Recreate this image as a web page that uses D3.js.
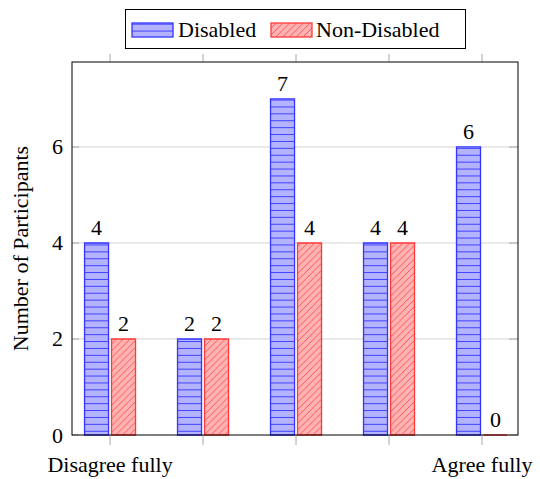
<!DOCTYPE html>
<html>
<head>
<meta charset="utf-8">
<script src="https://cdn.jsdelivr.net/npm/d3@7"></script>
</head>
<body style="margin:0;background:#fff">
<svg id="chart" width="540" height="479" style="display:block"></svg>
<script>
// Agreement scale (1 = disagree fully ... 5 = agree fully)
const categories = [1, 2, 3, 4, 5];
const tickLabels = ["Disagree fully", "", "", "", "Agree fully"];
const disabled = [4, 2, 7, 4, 6];
const nonDisabled = [2, 2, 4, 4, 0];
const yTicks = [0, 2, 4, 6];
const seriesNames = ["Disabled", "Non-Disabled"];

const FONT = '"Liberation Serif", serif';
const FS = 22;

const svg = d3.select("#chart");
const plot = { left: 72, right: 518, top: 62, bottom: 435 };

const x = d3.scaleLinear().domain([0.591, 5.387]).range([plot.left, plot.right]);
const y = d3.scaleLinear().domain([0, 7.77]).range([plot.bottom, plot.top]);

const barWidth = 24;
const barShift = 13.5;

const styles = [
  { fill: "#b3b3ff", stroke: "#3535ff", pattern: "hlines" },
  { fill: "#ffb3b3", stroke: "#ff3a3a", pattern: "nelines" }
];

// Text helper: every label uses the same serif face
function label(sel) {
  return sel.style("font-family", FONT).style("font-size", FS + "px").attr("fill", "#000");
}

// Fill patterns
const defs = svg.append("defs");
const ph = defs.append("pattern").attr("id", "hlines")
  .attr("patternUnits", "userSpaceOnUse").attr("width", 7).attr("height", 6.9);
ph.append("line").attr("x1", 0).attr("x2", 7).attr("y1", 3.45).attr("y2", 3.45)
  .attr("stroke", "#3535ff").attr("stroke-width", 0.9);
const pn = defs.append("pattern").attr("id", "nelines")
  .attr("patternUnits", "userSpaceOnUse").attr("width", 6.8).attr("height", 6.8);
pn.append("line").attr("x1", 0).attr("y1", 6.8).attr("x2", 6.8).attr("y2", 0)
  .attr("stroke", "#ff3a3a").attr("stroke-width", 0.8);
pn.append("line").attr("x1", -1).attr("y1", 1).attr("x2", 1).attr("y2", -1)
  .attr("stroke", "#ff3a3a").attr("stroke-width", 0.8);
pn.append("line").attr("x1", 5.8).attr("y1", 7.8).attr("x2", 7.8).attr("y2", 5.8)
  .attr("stroke", "#ff3a3a").attr("stroke-width", 0.8);

// Horizontal grid
svg.append("g").selectAll("line").data(yTicks.filter(d => d > 0)).join("line")
  .attr("x1", plot.left).attr("x2", plot.right)
  .attr("y1", d => y(d)).attr("y2", d => y(d))
  .attr("stroke", "#d3d3d3").attr("stroke-width", 1);

// Tick marks (gray): y inside on both sides, x outside top and bottom
const tk = svg.append("g").attr("stroke", "#a8a8a8").attr("stroke-width", 1);
yTicks.forEach(d => {
  tk.append("line").attr("x1", plot.left).attr("x2", plot.left + 7).attr("y1", y(d)).attr("y2", y(d));
  tk.append("line").attr("x1", plot.right - 9).attr("x2", plot.right).attr("y1", y(d)).attr("y2", y(d));
});
categories.forEach(c => {
  tk.append("line").attr("x1", x(c)).attr("x2", x(c)).attr("y1", plot.bottom).attr("y2", plot.bottom + 10);
  tk.append("line").attr("x1", x(c)).attr("x2", x(c)).attr("y1", plot.top - 8).attr("y2", plot.top);
});

// Bar outline as a path so a zero-height bar still shows its edge
const barPath = (x0, y0, y1) => `M${x0},${y1}V${y0}H${x0 + barWidth}V${y1}Z`;

// Bars
[disabled, nonDisabled].forEach((vals, si) => {
  const st = styles[si];
  const off = si === 0 ? -barShift : barShift;
  const g = svg.append("g");
  const data = categories.map((c, i) => ({ c, v: vals[i] }));
  g.selectAll("rect").data(data).join("rect")
    .attr("x", d => x(d.c) + off - barWidth / 2)
    .attr("y", d => y(d.v))
    .attr("width", barWidth)
    .attr("height", d => y(0) - y(d.v))
    .attr("fill", st.fill);
  g.selectAll("path").data(data).join("path")
    .attr("d", d => barPath(x(d.c) + off - barWidth / 2, y(d.v), y(0)))
    .attr("fill", `url(#${st.pattern})`)
    .attr("stroke", st.stroke).attr("stroke-width", 1.3);
  g.selectAll("text").data(data).join("text")
    .attr("x", d => x(d.c) + off)
    .attr("y", d => y(d.v) - 8)
    .attr("text-anchor", "middle")
    .call(label)
    .text(d => d.v);
});

// Frame
svg.append("rect").attr("x", plot.left).attr("y", plot.top)
  .attr("width", plot.right - plot.left).attr("height", plot.bottom - plot.top)
  .attr("fill", "none").attr("stroke", "#000").attr("stroke-width", 1);

// Y tick labels
svg.append("g").selectAll("text").data(yTicks).join("text")
  .attr("x", 63).attr("y", d => y(d) + 7.5)
  .attr("text-anchor", "end")
  .call(label)
  .text(d => d);

// X tick labels
svg.append("g").selectAll("text").data(categories).join("text")
  .attr("x", d => x(d)).attr("y", 472)
  .attr("text-anchor", "middle")
  .call(label)
  .text((d, i) => tickLabels[i]);

// Y axis title
svg.append("text")
  .attr("transform", `translate(28,${(plot.top + plot.bottom) / 2}) rotate(-90)`)
  .attr("text-anchor", "middle")
  .call(label)
  .text("Number of Participants");

// Legend
const lg = svg.append("g");
lg.append("rect").attr("x", 125.5).attr("y", 9.5).attr("width", 340).attr("height", 39)
  .attr("fill", "#fff").attr("stroke", "#000").attr("stroke-width", 1);
const legendX = [{ sx: 132, tx: 178 }, { sx: 271, tx: 316 }];
legendX.forEach((it, i) => {
  const st = styles[i];
  lg.append("rect").attr("x", it.sx).attr("y", 23).attr("width", 41).attr("height", 14)
    .attr("fill", st.fill);
  lg.append("rect").attr("x", it.sx).attr("y", 23).attr("width", 41).attr("height", 14)
    .attr("fill", `url(#${st.pattern})`).attr("stroke", st.stroke).attr("stroke-width", 1.3);
  lg.append("text").attr("x", it.tx).attr("y", 37)
    .call(label)
    .text(seriesNames[i]);
});
</script>
</body>
</html>
